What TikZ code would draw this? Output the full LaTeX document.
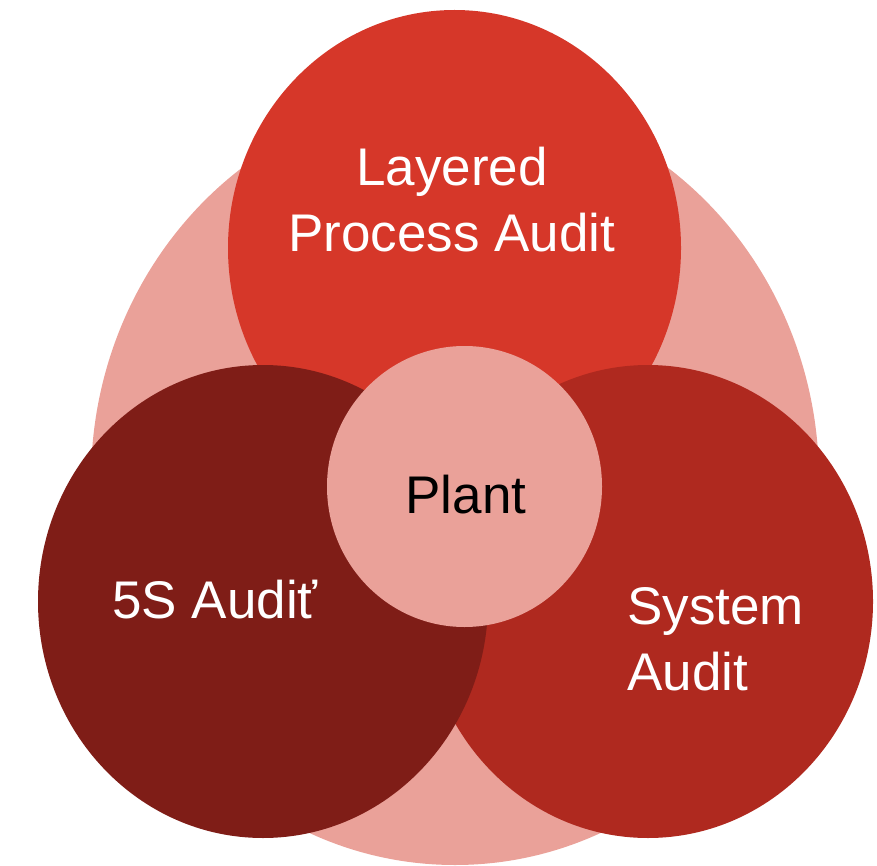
\documentclass[tikz,border=0pt]{standalone}
\usepackage{fontspec}
\setmainfont{Liberation Sans}
\definecolor{pinkbg}{RGB}{234,161,153}
\definecolor{topred}{RGB}{214,55,41}
\definecolor{darkred}{RGB}{127,29,23}
\definecolor{midred}{RGB}{175,41,31}
\begin{document}
\begin{tikzpicture}[x=1pt,y=-1pt,
  lbl/.style={font=\fontsize{53}{66}\selectfont, text=white, inner sep=0pt, anchor=base},
  darklbl/.style={lbl, text=black}]
\useasboundingbox (0,0) rectangle (877,866);
\fill[pinkbg] (455,480) ellipse [x radius=364, y radius=385];
\fill[topred] (454.5,248) ellipse [x radius=226.5, y radius=238];
\fill[midred] (648,601.5) ellipse [x radius=225, y radius=236.5];
\fill[darkred] (263,601.5) ellipse [x radius=225, y radius=236.5];
\fill[pinkbg] (464.5,486.5) ellipse [x radius=137.5, y radius=140.5];
\node[lbl, align=center] (lpa) at (452,252) {Layered\\Process Audit};
\node[darklbl] (plant) at (466,513) {Plant};
\node[lbl] (fives) at (215,618) {5S Audiť};
\node[lbl, align=left, anchor=base west] (sys) at (627,690) {System\\Audit};
\end{tikzpicture}
\end{document}
